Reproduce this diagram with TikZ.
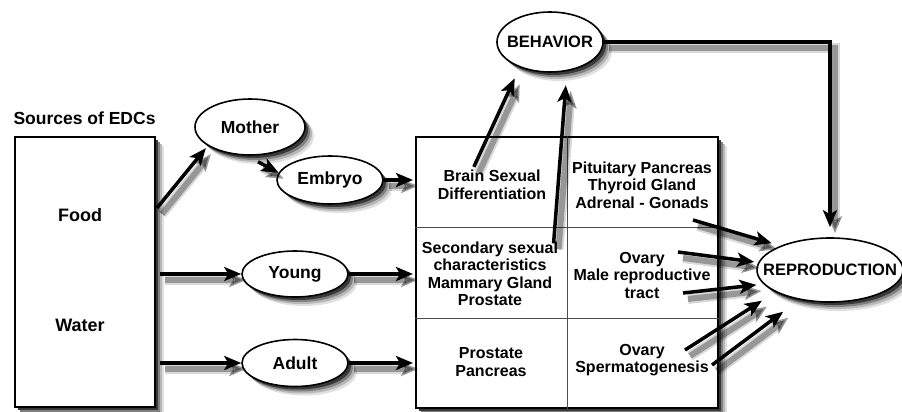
\documentclass[tikz,border=0pt]{standalone}
\usepackage{fontspec}
\setmainfont{Liberation Sans}
\usetikzlibrary{arrows.meta,positioning,shapes.geometric,calc}

\tikzset{
  organ/.style={ellipse, draw, line width=1.6pt, fill=white, inner sep=0pt, font=\fontsize{17.5}{20}\selectfont\bfseries},
  cell/.style={align=center, font=\fontsize{16}{17.5}\selectfont\bfseries},
  frame/.style={draw, line width=2pt, fill=white},
  divider/.style={draw=black!70, line width=1pt},
  flow/.style={-{Stealth[length=17pt,width=14pt,inset=4pt]}, line width=3.5pt,
    preaction={draw=black, opacity=0.15, line width=10pt, transform canvas={shift={(5pt,-6pt)}}},
    preaction={draw=black, opacity=0.30, line width=6pt, transform canvas={shift={(5pt,-6pt)}}}}
}

\begin{document}
\begin{tikzpicture}[x=1pt, y=-1pt]

  \useasboundingbox (0,0) rectangle (902,412);

  % Soft shadows (drawn first, boxes and ovals go on top)
  \foreach \sd/\sg in {9/12, 7/28, 5/50, 3/78} {
    \fill [black!\sg] (15+\sd,137+\sd) rectangle (155+\sd,407+\sd);
    \fill [black!\sg] (416+\sd,137+\sd) rectangle (718+\sd,408+\sd);
    \foreach \cx/\cy/\rx/\ry in {250/127/55/28, 330/180/53/24, 295/274/53/23, 295/363/53/23.5, 550/42/53/30, 830/270/73/32}
      \fill [black!\sg] (\cx+\sd,\cy+\sd) ellipse [x radius=\rx, y radius=\ry];
  }

  % Sources
  \node (srclabel) at (10,118) [anchor=west, font=\fontsize{17.5}{20}\selectfont\bfseries] {Sources of EDCs};
  \node (src) at (85,272) [frame, minimum width=140pt, minimum height=270pt] {};
  \node (food) at (80,215) [font=\fontsize{18}{20}\selectfont\bfseries] {Food};
  \node (water) at (80,325) [font=\fontsize{18}{20}\selectfont\bfseries] {Water};

  % Life stages
  \node (mother) at (250,127) [organ, minimum width=110pt, minimum height=56pt] {Mother};
  \node (embryo) at (330,180) [organ, minimum width=106pt, minimum height=48pt] {Embryo};
  \node (young) at (295,274) [organ, minimum width=106pt, minimum height=46pt] {Young};
  \node (adult) at (295,363) [organ, minimum width=106pt, minimum height=47pt] {Adult};

  % Target tissues
  \node (tissues) at (567,272.5) [frame, minimum width=302pt, minimum height=271pt] {};
  \draw [divider] (tissues.north) -- (tissues.south);
  \draw [divider] ($(tissues.north west)!1/3!(tissues.south west)$) -- ($(tissues.north east)!1/3!(tissues.south east)$);
  \draw [divider] ($(tissues.north west)!2/3!(tissues.south west)$) -- ($(tissues.north east)!2/3!(tissues.south east)$);

  \node (brain) at (492,185) [cell] {Brain Sexual\\Differentiation};
  \node (glands) at (642,185) [cell] {Pituitary Pancreas\\Thyroid Gland\\Adrenal - Gonads};
  \node (secondary) at (490,274) [cell] {Secondary sexual\\characteristics\\Mammary Gland\\Prostate};
  \node (gonadsmid) at (642,275) [cell] {Ovary\\Male reproductive\\tract};
  \node (prostate) at (491,362) [cell] {Prostate\\Pancreas};
  \node (gonadslow) at (642,360) [cell] {Ovary\\Spermatogenesis};

  % Outcomes
  \node (behavior) at (550,42) [organ, minimum width=106pt, minimum height=60pt, inner xsep=-7pt, font=\fontsize{16.5}{20}\selectfont\bfseries] {BEHAVIOR};
  \node (repro) at (830,270) [organ, minimum width=146pt, minimum height=64pt, inner xsep=-17pt, font=\fontsize{16.5}{20}\selectfont\bfseries] {REPRODUCTION};

  % Exposure routes
  \coordinate (srcout) at (157,208);
  \draw [flow, shorten >=3pt] (srcout) -- (mother.204);
  \draw [flow] ($(mother.south)+(8,6)$) -- (embryo.172);
  \draw [flow, shorten >=2pt] (embryo.east) -- (embryo.east -| tissues.west);
  \draw [flow, shorten <=4pt] (src.east |- young) -- (young.west);
  \draw [flow, shorten >=2pt] (young.east) -- (young -| tissues.west);
  \draw [flow, shorten <=4pt] (src.east |- adult) -- (adult.west);
  \draw [flow, shorten >=2pt] (adult.east) -- (adult -| tissues.west);

  % Effects on behavior
  \draw [flow, shorten >=12pt] (brain.135) -- (behavior.220);
  \draw [flow, shorten >=14pt] ($(secondary.north east)+(-8,5)$) -- (behavior.300);
  \draw [flow, shorten >=10pt] (behavior.east) -| (repro.north);

  % Effects on reproduction
  \coordinate (g1) at (693,220);
  \coordinate (g2) at (678,252);
  \coordinate (g3) at (683,293);
  \coordinate (g4) at (685,350);
  \coordinate (g5) at (712,365);
  \foreach \t/\a/\s in {g1/154/9, g2/174/4, g3/192/7, g4/202/16, g5/224/20}
    \draw [flow, shorten >=\s pt] (\t) -- (repro.\a);

\end{tikzpicture}
\end{document}
